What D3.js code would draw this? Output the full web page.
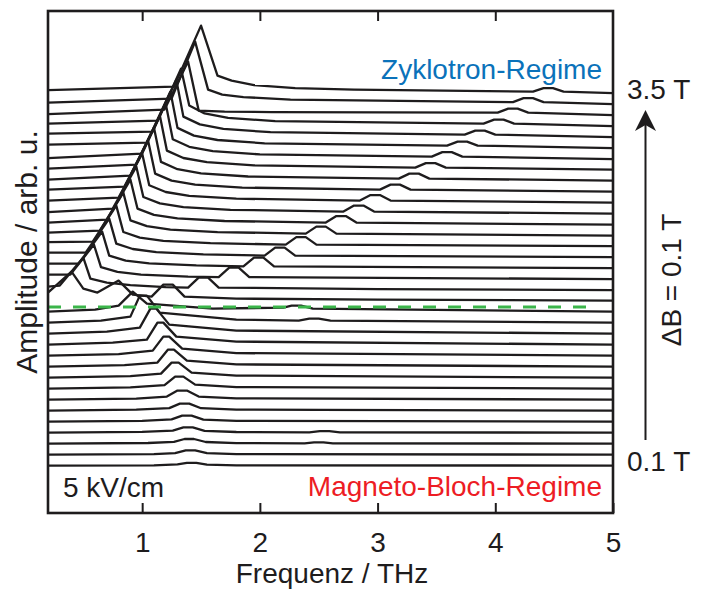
<!DOCTYPE html>
<html><head><meta charset="utf-8">
<script src="https://cdn.jsdelivr.net/npm/d3@7"></script>
<style>body{margin:0;background:#fff}svg{display:block}text{font-family:"Liberation Sans",Arial,sans-serif}</style>
</head><body><svg id="c" width="701" height="589"></svg>
<script>
// magnetic field of each trace (T)
const fields = [0.1,0.2,0.3,0.4,0.5,0.6,0.7,0.8,0.9,1.0,1.1,1.2,1.3,1.4,1.5,1.6,1.7,1.8,1.9,2.0,2.1,2.2,2.3,2.4,2.5,2.6,2.7,2.8,2.9,3.0,3.1,3.2,3.3,3.4,3.5];
const xTicks = [1,2,3,4,5];
const traceOffset = 11; // arb. u. between successive traces
// spectra [frequency THz, amplitude arb. u.] — Magneto-Bloch regime (0.1–1.5 T)
const blochSpectra = [
 [[0.2,0],[1.1,0.3],[1.3,1.2],[1.38,2.8],[1.46,2.8],[1.55,1],[1.8,0.3],[5,0]],
 [[0.2,0],[1.1,0.5],[1.28,1.5],[1.37,4.2],[1.45,4.2],[1.55,1.4],[1.8,0.4],[5,0]],
 [[0.2,0],[1.05,0.6],[1.27,1.8],[1.36,4.6],[1.44,4.6],[1.54,1.6],[1.8,0.5],[2.38,0.3],[2.46,1.2],[2.54,1.2],[2.62,0.3],[5,0]],
 [[0.2,0],[1.0,0.7],[1.26,2],[1.35,5.2],[1.43,5.2],[1.53,1.8],[1.8,0.6],[2.42,0.3],[2.51,1.4],[2.59,1.4],[2.68,0.3],[5,0]],
 [[0.2,0],[1.0,0.8],[1.25,2.2],[1.34,6],[1.42,6],[1.52,2],[1.8,0.8],[5,0]],
 [[0.2,0],[0.95,1],[1.23,2.5],[1.32,7],[1.40,7],[1.50,2.4],[1.8,1],[2.5,0.8],[5,0]],
 [[0.2,0],[0.95,1],[1.21,3],[1.30,9],[1.38,9],[1.48,3],[1.8,1.2],[5,0]],
 [[0.2,0],[0.9,1.2],[1.19,3.5],[1.28,12],[1.35,12],[1.45,4],[1.8,1.5],[5,0]],
 [[0.2,0],[0.9,1.5],[1.16,4],[1.25,15],[1.31,15],[1.42,5],[1.8,2],[5,0]],
 [[0.2,0],[0.85,1.5],[1.13,4],[1.22,17],[1.27,17],[1.38,6],[1.8,2.2],[5,0]],
 [[0.2,0],[0.8,1.5],[1.09,5],[1.18,19],[1.23,19],[1.34,7],[1.8,2.5],[5,0]],
 [[0.2,0],[0.75,2],[1.04,5],[1.13,22],[1.18,22],[1.29,8],[1.8,3],[5,0]],
 [[0.2,0],[0.7,2],[0.98,6],[1.07,25],[1.12,25],[1.23,9],[1.8,3],[5,0]],
 [[0.2,0],[0.65,2],[0.9,6],[0.98,27],[1.04,27],[1.15,10],[1.8,3],[2.33,2],[2.42,4],[2.5,4],[2.6,2],[5,0]],
 [[0.2,0],[0.6,2],[0.8,6],[0.92,20],[1.04,8],[1.6,3],[2.2,4],[2.27,6],[2.35,6],[2.45,3],[5,0]]
];
// Cyclotron regime (1.6–3.5 T)
const cycloSpectra = [
 [[0.2,8],[0.40,29],[0.5,12],[0.62,8],[0.80,20],[0.92,6],[1.08,4],[1.18,16],[1.26,16],[1.36,4],[1.8,2],[3,1],[5,0]],
 [[0.2,3],[0.3,4],[0.50,32],[0.56,11],[0.70,7],[0.9,4.5],[1.2,2.5],[1.39,2],[1.48,12],[1.56,12],[1.65,2],[3,0.5],[5,-0.5]],
 [[0.2,4],[0.39,4],[0.59,34],[0.65,11.5],[0.79,6.8],[0.99,4],[1.39,2],[1.65,1.5],[1.74,11],[1.82,11],[1.91,1.5],[5,-0.5]],
 [[0.2,4],[0.46,4],[0.66,36],[0.72,12],[0.86,7],[1.06,4.3],[1.46,2.2],[1.86,1.2],[1.95,10],[2.03,10],[2.12,1.2],[5,-0.5]],
 [[0.2,4],[0.52,4],[0.72,38],[0.78,13],[0.92,7.6],[1.12,4.5],[1.52,2.3],[2.04,1],[2.13,9],[2.21,9],[2.30,1],[5,-0.5]],
 [[0.2,3.5],[0.58,4],[0.78,40],[0.84,13.6],[0.98,8],[1.18,4.8],[1.58,2.4],[2.22,1],[2.31,8.5],[2.39,8.5],[2.48,1],[5,-0.5]],
 [[0.2,2],[0.64,4],[0.84,42],[0.90,14.3],[1.04,8.4],[1.24,5],[1.64,2.5],[2.39,1],[2.48,8],[2.56,8],[2.65,1],[5,-1]],
 [[0.2,1],[0.70,4],[0.90,44],[0.96,15],[1.10,8.8],[1.30,5.3],[1.70,2.6],[2.56,1],[2.65,7.5],[2.73,7.5],[2.82,1],[5,-1]],
 [[0.2,0.5],[0.75,4],[0.95,46],[1.01,15.6],[1.15,9.2],[1.35,5.5],[1.75,2.8],[2.71,1],[2.80,7],[2.88,7],[2.97,1],[5,-1]],
 [[0.2,1],[0.80,4],[1.00,48],[1.06,16.3],[1.20,9.6],[1.40,5.8],[1.80,2.9],[2.85,1],[2.94,6.5],[3.02,6.5],[3.11,1],[5,-1]],
 [[0.2,1],[0.85,4],[1.05,50],[1.11,17],[1.25,10],[1.45,6],[1.85,3],[3.02,1],[3.11,6],[3.19,6],[3.28,1],[5,-1]],
 [[0.2,0],[0.90,4],[1.10,52],[1.16,17.7],[1.30,10.4],[1.50,6.2],[1.90,3.1],[3.18,1],[3.27,6],[3.35,6],[3.44,1],[5,-1]],
 [[0.2,0],[0.95,4],[1.15,53],[1.21,18],[1.35,10.6],[1.55,6.4],[1.95,3.2],[3.32,1],[3.41,5.5],[3.49,5.5],[3.58,1],[5,-1]],
 [[0.2,-0.5],[1.00,4],[1.20,54],[1.26,18.4],[1.40,10.8],[1.60,6.5],[2.0,3.2],[3.46,1],[3.55,5.5],[3.63,5.5],[3.72,1],[5,-1.5]],
 [[0.2,2],[1.04,4],[1.24,55],[1.30,18.7],[1.44,11],[1.64,6.6],[2.04,3.3],[3.59,1],[3.68,5],[3.76,5],[3.85,1],[5,-1.5]],
 [[0.2,2],[1.09,4],[1.29,56],[1.35,19],[1.49,11.2],[1.69,6.7],[2.09,3.4],[3.74,1],[3.83,5],[3.91,5],[4.00,1],[5,-1.5]],
 [[0.2,1],[1.13,4],[1.33,56],[1.40,19],[1.53,11.2],[1.73,6.7],[2.13,3.4],[3.90,1],[3.99,5],[4.07,5],[4.16,1],[5,-1.5]],
 [[0.2,-0.5],[1.19,4],[1.39,52],[1.48,3],[1.7,2],[2.1,1.5],[4.02,1],[4.11,5],[4.19,5],[4.28,1],[5,-1.5]],
 [[0.2,0],[1.25,4],[1.45,61],[1.56,13],[1.68,8],[1.86,5.5],[2.26,3],[4.15,0.5],[4.24,4.5],[4.32,4.5],[4.41,0.5],[5,-1.5]],
 [[0.2,1.5],[1.27,5],[1.50,66],[1.64,16],[1.76,11],[1.95,6.5],[2.3,3.5],[2.8,2],[4.32,0],[4.41,3.5],[4.49,3.5],[4.58,0],[5,-1.5]]
];
const regimeBoundary = 14.5; // trace index of the dashed line

const svg = d3.select("#c");
const L=48,R=613,T=11,Bt=513;
const ink = "#1e1c1d";
const x = d3.scaleLinear().domain([0.2,5]).range([L,R]);
const y = d3.scaleLinear().domain([-47.4,454.6]).range([Bt,T]);
const spectra = blochSpectra.concat(cycloSpectra);

const line = d3.line().x(d=>x(d[0])).y(d=>y(d[1])).curve(d3.curveLinear);
const g = svg.append("g");
spectra.forEach((s,i)=>{
  g.append("path").datum(s.map(p=>[p[0],p[1]+i*traceOffset]))
   .attr("d",line).attr("fill","none").attr("stroke",ink)
   .attr("stroke-width",2.3).attr("stroke-linejoin","round");
});
// dashed regime boundary
svg.append("line").attr("x1",x(0.2)).attr("x2",x(4.85))
  .attr("y1",y(regimeBoundary*traceOffset-1)).attr("y2",y(regimeBoundary*traceOffset-1))
  .attr("stroke","#3bb54a").attr("stroke-width",3).attr("stroke-dasharray","13,12");

// frame
svg.append("rect").attr("x",L).attr("y",T).attr("width",R-L).attr("height",Bt-T)
  .attr("fill","none").attr("stroke",ink).attr("stroke-width",2.6);
// ticks
const ax = d3.axisBottom(x).tickValues(xTicks).tickSize(-10).tickPadding(19).tickFormat(d3.format("d"));
const gx = svg.append("g").attr("transform",`translate(0,${Bt})`).call(ax);
gx.select(".domain").remove();
gx.selectAll(".tick line").attr("stroke",ink).attr("stroke-width",2);
gx.selectAll(".tick text").attr("font-size",28).attr("fill",ink).attr("font-family","Liberation Sans, Arial, sans-serif").attr("dy","0.71em");
const axT = d3.axisTop(x).tickValues(xTicks.slice(0,4)).tickSize(-10).tickFormat("");
const gt = svg.append("g").attr("transform",`translate(0,${T})`).call(axT);
gt.select(".domain").remove();
gt.selectAll(".tick line").attr("stroke",ink).attr("stroke-width",2);

// labels
svg.append("text").attr("x",332).attr("y",583).attr("text-anchor","middle").attr("font-size",28).attr("fill",ink).text("Frequenz / THz");
svg.append("text").attr("transform","translate(37,252) rotate(-90)").attr("text-anchor","middle").attr("font-size",30).attr("fill",ink).text("Amplitude / arb. u.");
svg.append("text").attr("x",602).attr("y",79).attr("text-anchor","end").attr("font-size",28).attr("fill","#0a72ba").text("Zyklotron-Regime");
svg.append("text").attr("x",602).attr("y",496).attr("text-anchor","end").attr("font-size",28).attr("fill","#ed1c24").text("Magneto-Bloch-Regime");
svg.append("text").attr("x",63).attr("y",497).attr("font-size",28).attr("fill",ink).text("5 kV/cm");
svg.append("text").attr("x",627).attr("y",99).attr("font-size",28).attr("fill",ink).text(fields[fields.length-1]+" T");
svg.append("text").attr("x",627).attr("y",471).attr("font-size",28).attr("fill",ink).text(fields[0]+" T");
svg.append("text").attr("transform","translate(681,280) rotate(-90)").attr("text-anchor","middle").attr("font-size",28).attr("fill",ink).text("ΔB = "+(fields[1]-fields[0]).toFixed(1)+" T");
// arrow
const ax0=645.5;
svg.append("line").attr("x1",ax0).attr("x2",ax0).attr("y1",440).attr("y2",124).attr("stroke",ink).attr("stroke-width",2);
svg.append("path").attr("d",`M${ax0},110 L${ax0+10.5},131 L${ax0},125 L${ax0-10.5},131 Z`).attr("fill",ink);
</script></body></html>
